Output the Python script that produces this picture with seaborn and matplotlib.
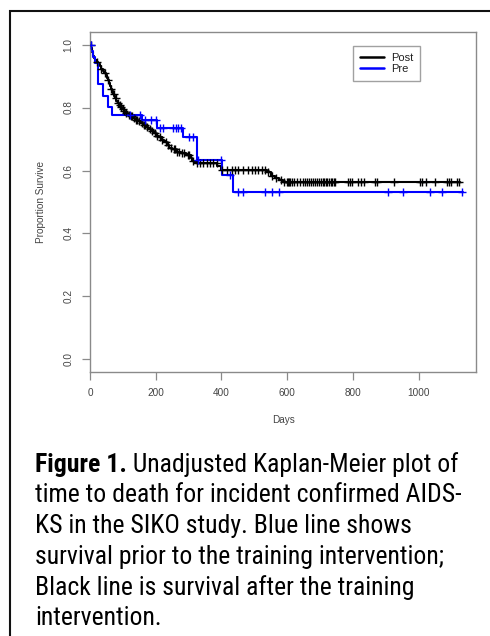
import numpy as np
import pandas as pd
import matplotlib
matplotlib.use("Agg")
import matplotlib.pyplot as plt
import seaborn as sns
from matplotlib import font_manager
from matplotlib.font_manager import FontProperties
from matplotlib.patches import Rectangle

# ---------------- data ----------------
post_times = [0, 3, 6, 9, 12, 16, 20, 25, 30, 35, 40, 44, 48, 52, 55, 58, 61, 64, 67, 70,
              73, 76, 80, 84, 88, 92, 97, 102, 108, 115, 122, 130, 138, 146, 154, 162, 170,
              178, 186, 194, 202, 210, 218, 226, 234, 242, 250, 262, 276, 292, 306, 312, 318,
              388, 398, 540, 552, 562, 574, 586, 1126]
post_surv = [1.0, 0.990, 0.975, 0.965, 0.958, 0.950, 0.945, 0.938, 0.931, 0.923, 0.916, 0.909,
             0.902, 0.895, 0.886, 0.877, 0.868, 0.860, 0.852, 0.844, 0.836, 0.829, 0.821, 0.814,
             0.808, 0.802, 0.795, 0.789, 0.782, 0.777, 0.772, 0.767, 0.761, 0.756, 0.750, 0.745,
             0.738, 0.731, 0.725, 0.718, 0.711, 0.705, 0.698, 0.690, 0.682, 0.673, 0.667, 0.660,
             0.655, 0.650, 0.640, 0.630, 0.623, 0.613, 0.602, 0.594, 0.584, 0.577, 0.571, 0.565,
             0.565]
post_censor = [2, 20, 35, 45, 55, 65, 72, 78, 85, 90, 95, 100, 105, 110, 118, 125, 128, 135, 140,
               143, 150, 158, 165, 168, 175, 182, 190, 198, 205, 213, 220, 230, 238, 246, 255,
               258, 265, 270, 280, 285, 298, 302, 315, 325, 335, 345, 355, 365, 375, 386, 401,
               416, 431, 441, 452, 467, 482, 492, 502, 512, 523, 533, 543, 553, 565, 580, 590,
               600, 604, 607, 609, 614, 620, 630, 640, 649, 655, 660, 668, 673, 679, 686, 691,
               696, 704, 710, 712, 717, 722, 727, 733, 738, 743, 746, 786, 791, 799, 817, 825,
               834, 868, 875, 925, 1005, 1012, 1024, 1050, 1087, 1094, 1100, 1116, 1124]

pre_times = [0, 3, 8, 14, 24, 25, 40, 55, 68, 157, 204, 283, 325, 401, 436, 1136]
pre_surv = [1.0, 0.98, 0.96, 0.942, 0.905, 0.875, 0.838, 0.803, 0.777, 0.761, 0.735, 0.708,
            0.634, 0.586, 0.533, 0.533]
pre_censor = [2, 122, 152, 167, 185, 200, 213, 221, 253, 262, 269, 276, 302, 313, 330, 398, 426,
              449, 465, 533, 553, 576, 906, 954, 1035, 1070, 1131]

groups = ["Post", "Pre"]
colors = {"Post": "black", "Pre": "blue"}
x_ticks = [0, 200, 400, 600, 800, 1000]
y_ticks = [0.0, 0.2, 0.4, 0.6, 0.8, 1.0]
x_label = "Days"
y_label = "Proportion Survive"
caption_bold = "Figure 1."
caption_lines = [" Unadjusted Kaplan-Meier plot of",
                 "time to death for incident confirmed AIDS-",
                 "KS in the SIKO study. Blue line shows",
                 "survival prior to the training intervention;",
                 "Black line is survival after the training",
                 "intervention."]

# ---------------- style ----------------
sns.set_theme(style="white")
ttfs = font_manager.fontManager.ttflist
names = {f.name for f in ttfs}
plot_font = "Liberation Sans" if "Liberation Sans" in names else "DejaVu Sans"
plt.rcParams["font.family"] = [plot_font, "DejaVu Sans"]


def find_condensed(bold):
    prefs = ["Liberation Sans Narrow", "Roboto Condensed", "Open Sans Condensed",
             "Noto Sans", "Roboto", "Open Sans", "DejaVu Sans", "Liberation Sans"]
    cands = []
    for f in ttfs:
        st = str(f.stretch).lower()
        narrow = ("narrow" in f.name.lower() or "condensed" in f.name.lower()
                  or st in ("condensed", "semi-condensed") or st in ("75", "87"))
        if not narrow:
            continue
        if st in ("extra-condensed", "ultra-condensed"):
            continue
        w = f.weight if isinstance(f.weight, int) else (700 if "bold" in str(f.weight) else 400)
        if bold and w < 600:
            continue
        if not bold and not (350 <= w <= 450):
            continue
        if f.style != "normal":
            continue
        rank = next((i for i, p in enumerate(prefs) if f.name.startswith(p)), 99)
        cands.append((rank, f.fname))
    if cands:
        cands.sort()
        return FontProperties(fname=cands[0][1])
    return None


cap_reg = find_condensed(False)
cap_bold = find_condensed(True)
if cap_reg is None or cap_bold is None:
    cap_reg = FontProperties(family=plot_font)
    cap_bold = FontProperties(family=plot_font, weight="bold")

W, H = 490, 636
fig = plt.figure(figsize=(W / 100, H / 100), dpi=100)
ax = fig.add_axes([90 / W, 1 - 372 / H, (476 - 90) / W, (372 - 32) / H])


def step_df(times, surv, name):
    return pd.DataFrame({"time": times, "surv": surv, "group": name})


def censor_df(times, surv, cens, name):
    t = np.asarray(times)
    s = np.asarray(surv)
    idx = np.searchsorted(t, np.asarray(cens), side="right") - 1
    return pd.DataFrame({"time": cens, "surv": s[idx], "group": name})


curves = pd.concat([step_df(post_times, post_surv, "Post"), step_df(pre_times, pre_surv, "Pre")])
marks = pd.concat([censor_df(post_times, post_surv, post_censor, "Post"),
                   censor_df(pre_times, pre_surv, pre_censor, "Pre")])

for g in groups:
    d = curves[curves.group == g]
    sns.lineplot(data=d, x="time", y="surv", ax=ax, color=colors[g], lw=1.5,
                 drawstyle="steps-post", estimator=None, sort=False, label=g)
    m = marks[marks.group == g]
    sns.scatterplot(data=m, x="time", y="surv", ax=ax, marker="+", color=colors[g],
                    s=40, linewidth=1.0, legend=False, zorder=3)

ax.set_xlim(0, 1175)
ax.set_ylim(-0.04, 1.04)
ax.set_xticks(x_ticks)
ax.set_yticks(y_ticks)
ax.set_xticklabels([str(v) for v in x_ticks])
ax.set_yticklabels([f"{v:.1f}" for v in y_ticks], rotation=90, va="center")
for sp in ax.spines.values():
    sp.set_color("#8a8a8a")
    sp.set_linewidth(1.0)
ax.tick_params(axis="both", direction="out", length=5.8, width=0.9, color="#8a8a8a",
               labelsize=7.2, labelcolor="#444444", pad=6, bottom=True, left=True)
ax.set_xlabel(x_label, fontsize=7.2, color="#444444", labelpad=12)
ax.set_ylabel(y_label, fontsize=7.2, color="#444444", labelpad=13)

leg = ax.legend(loc="upper left", bbox_to_anchor=((353 - 90) / 386, (372 - 46) / 340),
                borderaxespad=0, frameon=True, fancybox=False, fontsize=8,
                handlelength=2.2, handletextpad=0.6, borderpad=0.6, labelspacing=0.12)
leg.get_frame().set_edgecolor("#8a8a8a")
leg.get_frame().set_linewidth(1.0)
for t in leg.get_texts():
    t.set_color("#222222")
for l in leg.get_lines():
    l.set_linewidth(1.8)

# ---------------- border box ----------------
fig.patches.append(Rectangle((9.5 / W, -0.2), 1.0, 1 - 11 / H + 0.2, transform=fig.transFigure,
                             fill=False, edgecolor="#111111", linewidth=1.5))

# ---------------- caption ----------------
fig.canvas.draw()
renderer = fig.canvas.get_renderer()
x0 = 35 / W
baselines = [471.7 + 30.7 * i for i in range(6)]
target_w = 480 - 35
fs = 17.0
for _ in range(3):
    pb = cap_bold.copy(); pb.set_size(fs)
    pr = cap_reg.copy(); pr.set_size(fs)
    tb = fig.text(0, 0, caption_bold, fontproperties=pb)
    tr = fig.text(0, 0, caption_lines[0], fontproperties=pr)
    w = tb.get_window_extent(renderer).width + tr.get_window_extent(renderer).width
    tb.remove(); tr.remove()
    fs = fs * target_w / w
fs = min(fs, 18.5)
pb = cap_bold.copy(); pb.set_size(fs)
pr = cap_reg.copy(); pr.set_size(fs)

tb = fig.text(x0, 1 - baselines[0] / H, caption_bold, fontproperties=pb, va="baseline",
              color="black")
wb = tb.get_window_extent(renderer).width
fig.text(x0 + wb / W, 1 - baselines[0] / H, caption_lines[0], fontproperties=pr,
         va="baseline", color="black")
for i, line in enumerate(caption_lines[1:], start=1):
    fig.text(x0, 1 - baselines[i] / H, line, fontproperties=pr, va="baseline", color="black")

fig.savefig("out.png", dpi=100)
